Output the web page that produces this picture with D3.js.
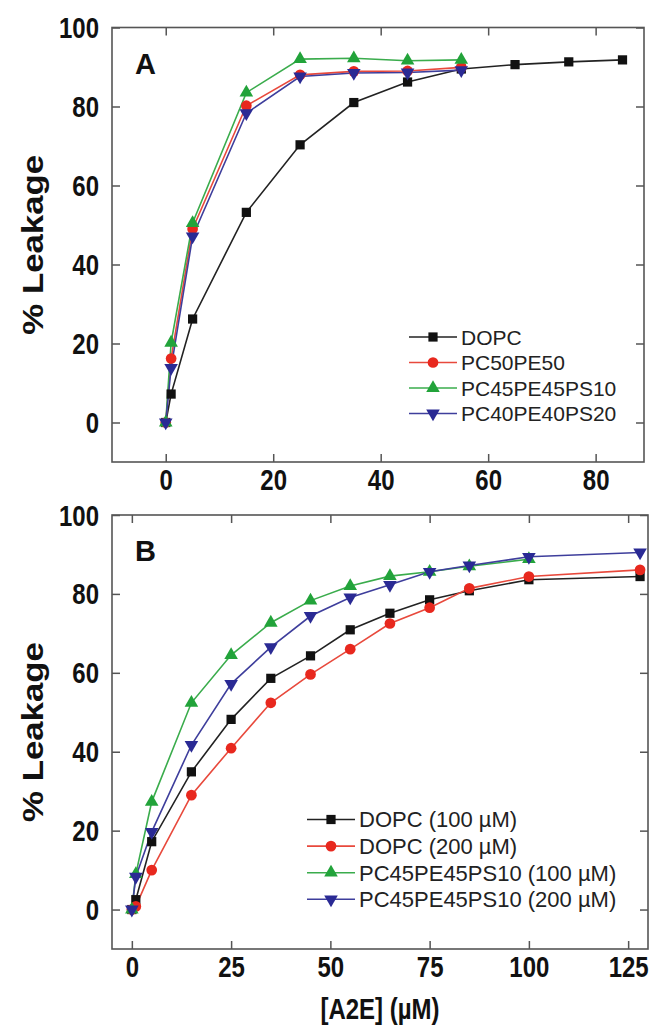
<!DOCTYPE html>
<html><head><meta charset="utf-8">
<script src="https://cdn.jsdelivr.net/npm/d3@7"></script>
<style>
body{margin:0;background:#fff;}
svg{display:block;font-family:"Liberation Sans",Arial,sans-serif;}
</style></head>
<body><svg id="c" width="652" height="1028"></svg>
<script>
// ---------- Panel A data ----------
const xA_dopc = [0, 1, 5, 15, 25, 35, 45, 55, 65, 75, 85];
const yA_dopc = [0, 7.2, 26.2, 53.2, 70.3, 81, 86.2, 89.5, 90.6, 91.3, 91.8];
const xA_other = [0, 1, 5, 15, 25, 35, 45, 55];
const yA_pc50pe50 = [0, 16.2, 49, 80.2, 88, 88.9, 89, 89.9];
const yA_pc45pe45ps10 = [0, 20.2, 50.5, 83.5, 92, 92.2, 91.6, 91.8];
const yA_pc40pe40ps20 = [0, 13.8, 47.1, 78.3, 87.6, 88.5, 88.6, 89.2];
const namesA = ["DOPC", "PC50PE50", "PC45PE45PS10", "PC40PE40PS20"];
const xTicksA = [0, 20, 40, 60, 80];

// ---------- Panel B data ----------
const xB_long = [0, 1, 5, 15, 25, 35, 45, 55, 65, 75, 85, 100, 128];
const xB_short = [0, 1, 5, 15, 25, 35, 45, 55, 65, 75, 85, 100];
const yB_dopc100 = [0, 2.5, 17.2, 34.9, 48.2, 58.6, 64.3, 70.9, 75.1, 78.5, 80.8, 83.6, 84.4];
const yB_dopc200 = [0, 0.8, 10.0, 29.0, 40.9, 52.4, 59.6, 66.0, 72.5, 76.5, 81.4, 84.4, 86.1];
const yB_ps10_100 = [0, 9, 27.3, 52.4, 64.5, 72.7, 78.3, 82.0, 84.5, 85.6, 87.0, 88.8];
const yB_ps10_200 = [0, 8.3, 19.7, 41.7, 57.2, 66.5, 74.4, 79.1, 82.3, 85.6, 87.2, 89.4, 90.5];
const namesB = ["DOPC (100 \u00b5M)", "DOPC (200 \u00b5M)", "PC45PE45PS10 (100 \u00b5M)", "PC45PE45PS10 (200 \u00b5M)"];
const xTicksB = [0, 25, 50, 75, 100, 125];

const yTicks = [0, 20, 40, 60, 80, 100];

// ---------- styles ----------
const colors = ["#111111", "#e8281e", "#22a33a", "#2a2a94"];
const lineColors = ["#222222", "#e8493c", "#3aac4c", "#3e3e9c"];
const shapes = ["square", "circle", "up", "down"];
const STRETCH = 1.2;

const svg = d3.select("#c");

function symbolPath(shape) {
  if (shape === "square") return d3.symbol(d3.symbolSquare, 85)();
  if (shape === "circle") return d3.symbol(d3.symbolCircle, 90)();
  return d3.symbol(d3.symbolTriangle, 80)();
}

function panel(cfg) {
  const g = svg.append("g");
  const x = d3.scaleLinear().domain(cfg.xDomain).range([cfg.left, cfg.right]);
  const y = d3.scaleLinear().domain([-10, 100]).range([cfg.bottom, cfg.top]);
  const axisColor = "#555";

  const bx = g.append("g").attr("transform", `translate(0,${cfg.bottom})`)
    .call(d3.axisBottom(x).tickValues(cfg.xTicks).tickSizeInner(-8).tickSizeOuter(0));
  const tx = g.append("g").attr("transform", `translate(0,${cfg.top})`)
    .call(d3.axisTop(x).tickValues(cfg.xTicks).tickSizeInner(-8).tickSizeOuter(0).tickFormat(""));
  const ly = g.append("g").attr("transform", `translate(${cfg.left},0)`)
    .call(d3.axisLeft(y).tickValues(yTicks).tickSizeInner(-8).tickSizeOuter(0).tickPadding(13));
  const ry = g.append("g").attr("transform", `translate(${cfg.right},0)`)
    .call(d3.axisRight(y).tickValues(yTicks).tickSizeInner(-8).tickSizeOuter(0).tickFormat(""));

  [bx, tx, ly, ry].forEach(a => {
    a.select(".domain").remove();
    a.selectAll(".tick line").attr("stroke", axisColor).attr("stroke-width", 1.5);
    a.selectAll(".tick text").attr("fill", "#111").attr("font-size", 24).attr("font-weight", "bold")
      .attr("font-family", "'Liberation Sans', Arial, sans-serif");
  });
  bx.selectAll(".tick text").attr("dy", null).attr("y", 0)
    .attr("transform", `translate(0,28) scale(1,${STRETCH})`);
  ly.selectAll(".tick text").attr("dy", "0.35em").attr("transform", `scale(1,${STRETCH})`);

  g.append("rect").attr("x", cfg.left).attr("y", cfg.top)
    .attr("width", cfg.right - cfg.left).attr("height", cfg.bottom - cfg.top)
    .attr("fill", "none").attr("stroke", axisColor).attr("stroke-width", 1.6);

  const line = d3.line().x(d => x(d[0])).y(d => y(d[1]));
  cfg.series.forEach((s, i) => {
    const pts = s.xs.map((v, k) => [v, s.ys[k]]);
    g.append("path").datum(pts).attr("d", line)
      .attr("fill", "none").attr("stroke", lineColors[i]).attr("stroke-width", 1.6);
  });
  cfg.series.forEach((s, i) => {
    const pts = s.xs.map((v, k) => [v, s.ys[k]]);
    g.selectAll(null).data(pts).enter().append("path")
      .attr("d", symbolPath(shapes[i]))
      .attr("transform", d => `translate(${x(d[0])},${y(d[1])})${shapes[i] === "down" ? " rotate(180)" : ""}`)
      .attr("fill", colors[i]);
  });

  g.append("text").attr("x", cfg.left + 23).attr("y", cfg.top + 46)
    .attr("font-size", 29).attr("font-weight", "bold").attr("fill", "#111").text(cfg.letter);

  g.append("text")
    .attr("transform", `translate(43,${(cfg.top + cfg.bottom) / 2}) rotate(-90) scale(${STRETCH},1)`)
    .attr("text-anchor", "middle").attr("font-size", 29).attr("font-weight", "bold").attr("fill", "#111")
    .text("% Leakage");

  cfg.names.forEach((n, i) => {
    const ly0 = cfg.legY + i * cfg.legDy;
    const lg = g.append("g");
    lg.append("line").attr("x1", cfg.legX).attr("x2", cfg.legX + 48)
      .attr("y1", ly0).attr("y2", ly0).attr("stroke", lineColors[i]).attr("stroke-width", 1.6);
    lg.append("path").attr("d", symbolPath(shapes[i]))
      .attr("transform", `translate(${cfg.legX + 24},${ly0})${shapes[i] === "down" ? " rotate(180)" : ""}`)
      .attr("fill", colors[i]);
    lg.append("text").attr("x", cfg.legX + 52).attr("y", ly0).attr("dy", "0.36em")
      .attr("font-size", cfg.legFont).attr("fill", "#222").text(n);
  });
}

panel({
  xDomain: [-10, 89], xTicks: xTicksA, left: 112, right: 644, top: 27.5, bottom: 462,
  letter: "A", names: namesA, legX: 409, legY: 337, legDy: 25.5, legFont: 21,
  series: [
    {xs: xA_dopc, ys: yA_dopc},
    {xs: xA_other, ys: yA_pc50pe50},
    {xs: xA_other, ys: yA_pc45pe45ps10},
    {xs: xA_other, ys: yA_pc40pe40ps20}
  ]
});

panel({
  xDomain: [-5, 130], xTicks: xTicksB, left: 112, right: 648, top: 515, bottom: 949,
  letter: "B", names: namesB, legX: 307, legY: 819.5, legDy: 26.6, legFont: 22,
  series: [
    {xs: xB_long, ys: yB_dopc100},
    {xs: xB_long, ys: yB_dopc200},
    {xs: xB_short, ys: yB_ps10_100},
    {xs: xB_long, ys: yB_ps10_200}
  ]
});

svg.append("text").attr("transform", `translate(380,1019) scale(1,${STRETCH})`)
  .attr("text-anchor", "middle")
  .attr("font-size", 24).attr("font-weight", "bold").attr("fill", "#111").text("[A2E] (\u00b5M)");
</script>
</body></html>
